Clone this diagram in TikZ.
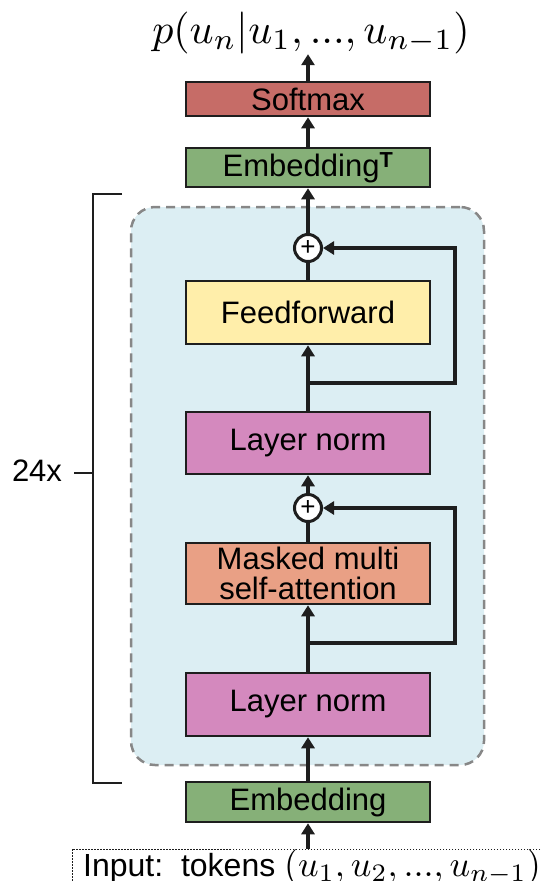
\documentclass[tikz,border=0pt]{standalone}
\usepackage[no-math]{fontspec}
\setmainfont{Liberation Sans}
\usetikzlibrary{arrows.meta, positioning, calc}
\definecolor{linedark}{RGB}{30,30,30}
\definecolor{softred}{RGB}{198,108,103}
\definecolor{embgreen}{RGB}{134,176,120}
\definecolor{ffyellow}{RGB}{255,238,170}
\definecolor{normpink}{RGB}{212,137,190}
\definecolor{attnsalmon}{RGB}{233,160,133}
\definecolor{blockblue}{RGB}{220,238,243}
\definecolor{dashgray}{RGB}{135,135,135}

\begin{document}
\begin{tikzpicture}[
          x=1pt, y=-1pt,
          box/.style={draw=linedark, line width=2.5pt, minimum width=244pt, inner sep=0pt,
                      align=center, font=\fontsize{31}{34}\selectfont},
          addnode/.style={circle, draw=linedark, fill=white, line width=3pt,
                          minimum size=27pt, inner sep=0pt, font=\fontsize{26}{26}\selectfont},
          flow/.style={->, draw=linedark, line width=4pt},
          >={Triangle[length=11pt,width=13pt]}
        ]
        \useasboundingbox (0,0) rectangle (541,881);
        % repeated decoder block
        \node [draw=dashgray, fill=blockblue, line width=2.5pt, dash pattern=on 9pt off 6pt,
               rounded corners=24pt, minimum width=353pt, minimum height=558pt] (block) at (307.5,486) {};
        % boxes
        \node [box, fill=softred, minimum height=34pt] (softmax) at (308,99) {Softmax};
        \node [box, fill=embgreen, minimum height=39pt] (embT) at (308,167.5) {Embedding\textsuperscript{\textbf{T}}};
        \node [addnode] (add2) at (308,248) {+};
        \node [box, fill=ffyellow, minimum height=63pt] (ff) at (308,312.5) {Feedforward};
        \node [box, fill=normpink, minimum height=62pt] (ln2) at (308,443) {Layer norm};
        \node [addnode] (add1) at (308,508) {+};
        \node [box, fill=attnsalmon, minimum height=61pt] (mha) at (308,573.5) {Masked multi\\[-4pt]self-attention};
        \node [box, fill=normpink, minimum height=63pt] (ln1) at (308,704.5) {Layer norm};
        \node [box, fill=embgreen, minimum height=40pt] (emb) at (308,802) {Embedding};
        \node [draw=linedark, line width=0.8pt, dash pattern=on 1.5pt off 1.5pt, minimum width=480pt,
               minimum height=36pt, inner sep=0pt, font=\fontsize{32}{34}\selectfont] (input) at (312,867)
              {\raisebox{6pt}{Input:\ \ tokens {\normalsize\scalebox{3.6}{$(u_1, u_2, ..., u_{n-1})$}}}};
        \node [inner sep=0pt] (out) at (311,33) {\scalebox{4.2}{$p(u_n|u_1,...,u_{n-1})$}};
        % residual branch points
        \coordinate (br1) at (308,643);
        \coordinate (r1) at (455,508);
        \coordinate (br2) at (308,383);
        \coordinate (r2) at (455,248);
        % main path
        \draw [flow] (emb.north |- input.north) -- (emb.south);
        \draw [flow] (emb.north) -- (ln1.south);
        \draw [flow] (ln1.north) -- (mha.south);
        \draw [flow, -] (mha.north) -- (add1.south);
        \draw [flow] (add1.north) -- (ln2.south);
        \draw [flow] (ln2.north) -- (ff.south);
        \draw [flow, -] (ff.north) -- (add2.south);
        \draw [flow] (add2.north) -- (embT.south);
        \draw [flow] (embT.north) -- (softmax.south);
        \draw [flow] (softmax.north) -- (softmax.north |- out.south);
        % skip connections
        \draw [flow] (br1) -| (r1) -- (add1.east);
        \draw [flow] (br2) -| (r2) -- (add2.east);
        % repeat bracket
        \draw [draw=linedark, line width=2.5pt] (122,194) -- (93,194) -- (93,783) -- (122,783);
        \draw [draw=linedark, line width=2.5pt] (74,473) -- (93,473);
        \node [font=\fontsize{31}{34}\selectfont] (reps) at (37,471) {24x};
        \end{tikzpicture}
\end{document}
